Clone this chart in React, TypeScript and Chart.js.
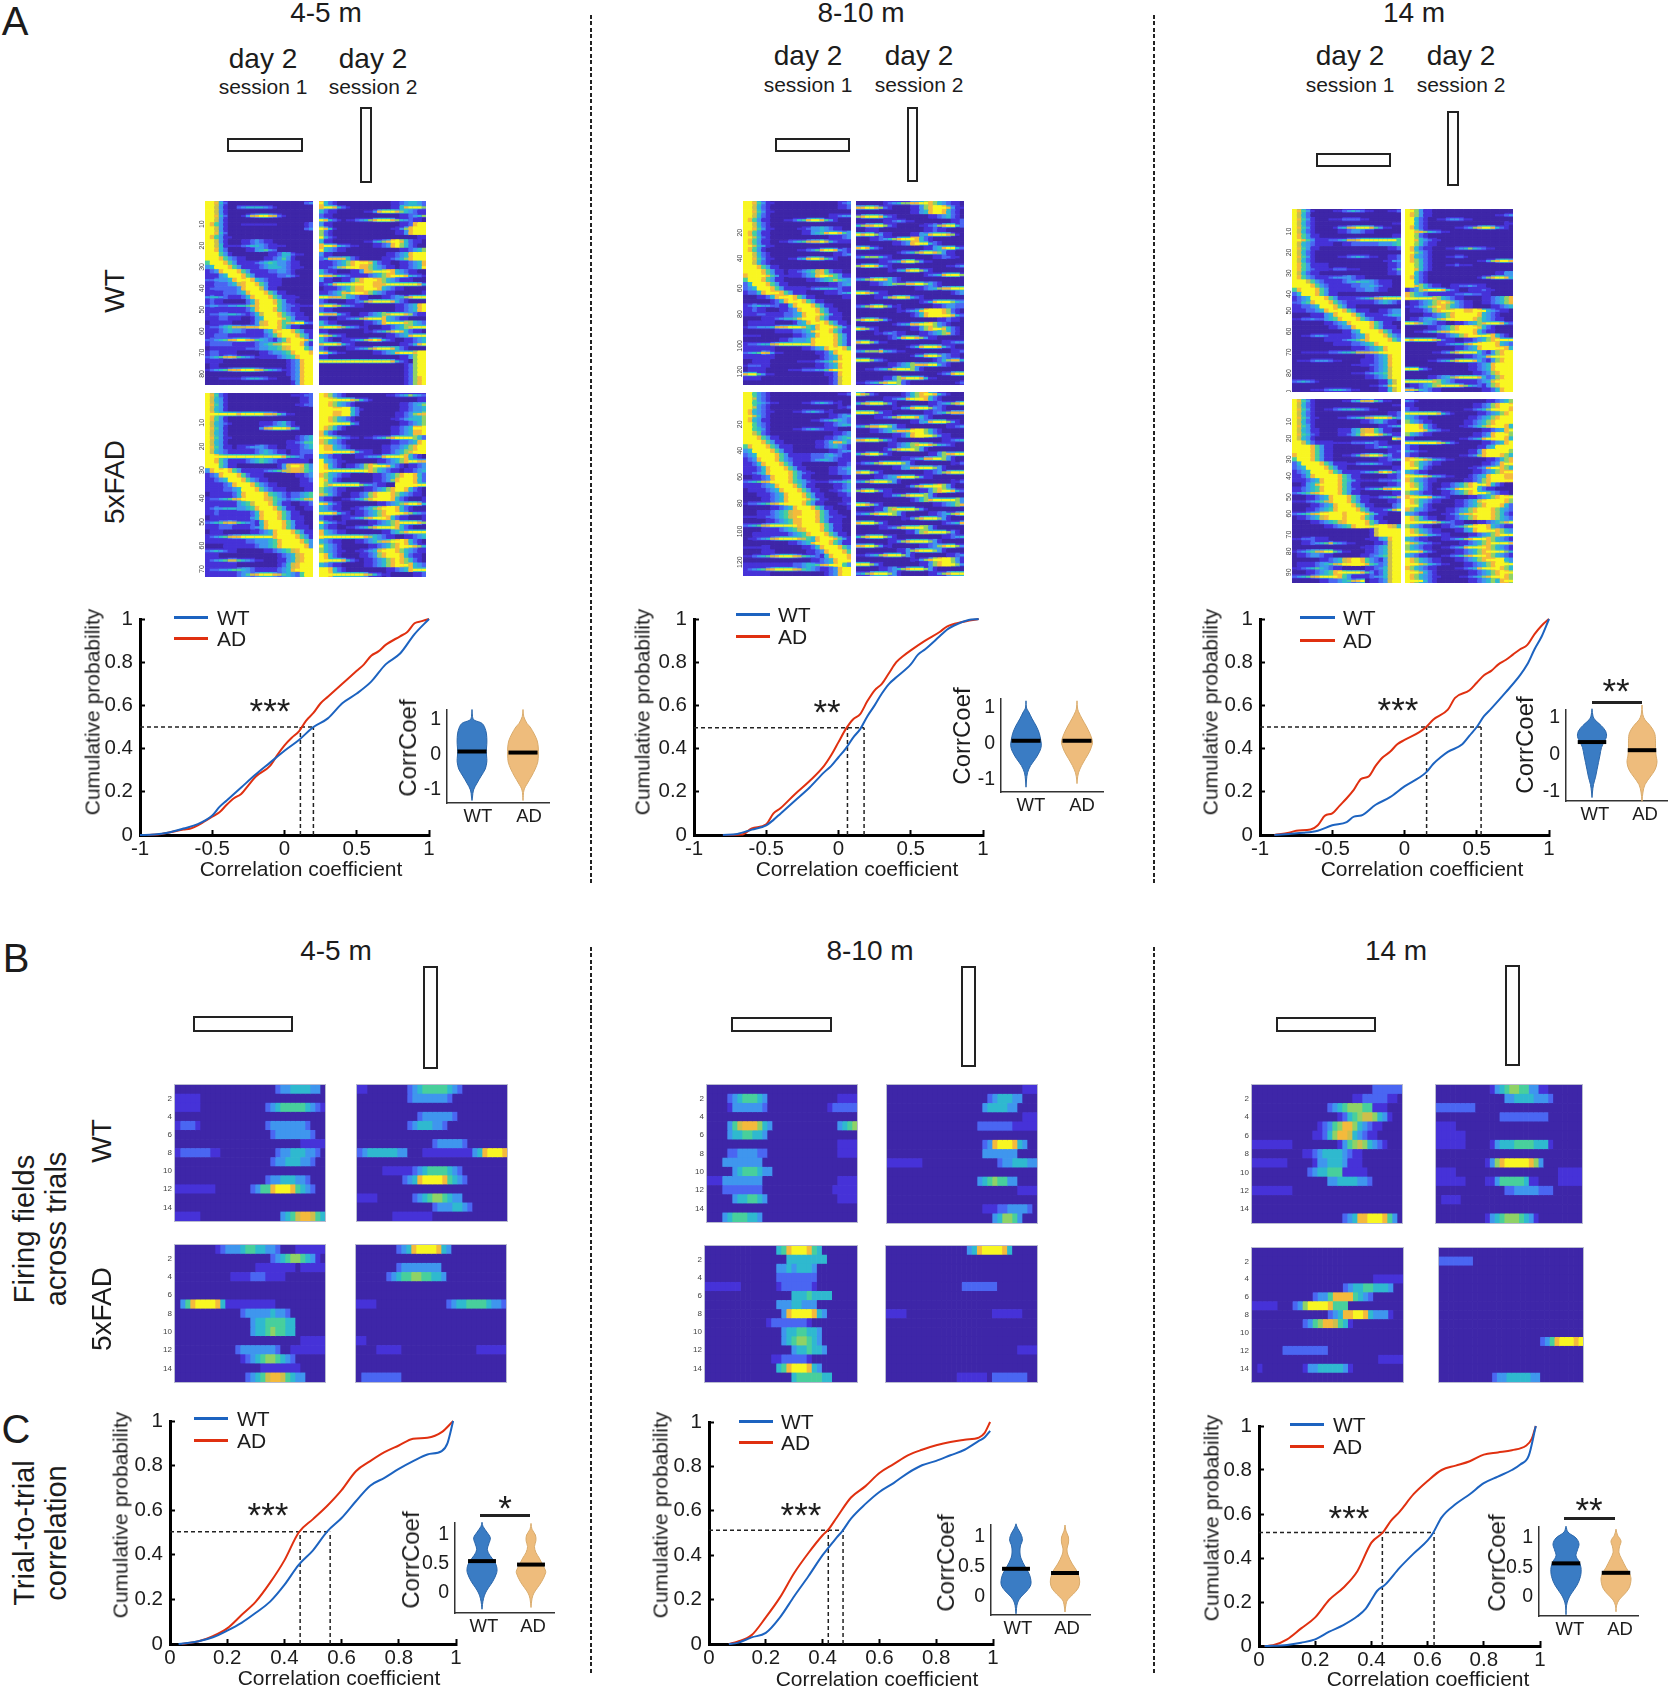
import React, { useEffect, useRef } from "react";
import { Chart, registerables } from "chart.js";
Chart.register(...registerables);
Chart.defaults.font.family = "'Liberation Sans', Arial, sans-serif";
Chart.defaults.color = "#1c1c1c";

/* ---------- cumulative curves [correlation, probability] ---------- */
const a1WT = [[-1,0],[-.9,.002],[-.8,.012],[-.7,.03],[-.6,.05],[-.5,.09],[-.45,.13],[-.4,.16],[-.3,.22],[-.2,.28],[-.1,.335],[0,.39],[.1,.44],[.2,.5],[.3,.54],[.4,.61],[.5,.655],[.6,.71],[.7,.79],[.8,.84],[.9,.93],[1,1]];
const a1AD = [[-.95,0],[-.85,.005],[-.7,.025],[-.65,.03],[-.6,.045],[-.5,.085],[-.45,.105],[-.4,.14],[-.35,.17],[-.3,.19],[-.25,.23],[-.2,.27],[-.1,.32],[-.05,.37],[0,.415],[.05,.45],[.1,.48],[.15,.53],[.2,.565],[.25,.61],[.3,.64],[.4,.7],[.5,.76],[.55,.79],[.6,.83],[.65,.85],[.7,.88],[.8,.92],[.85,.94],[.9,.98],[.95,.99],[1,1]];
const a2WT = [[-.8,0],[-.7,.005],[-.6,.025],[-.5,.045],[-.45,.07],[-.4,.1],[-.3,.16],[-.2,.22],[-.1,.29],[-.05,.32],[0,.36],[.05,.4],[.1,.45],[.15,.49],[.2,.55],[.25,.6],[.3,.655],[.35,.7],[.4,.73],[.5,.79],[.55,.835],[.6,.86],[.7,.92],[.75,.95],[.8,.97],[.9,.995],[.97,1]];
const a2AD = [[-.8,0],[-.67,.002],[-.6,.03],[-.5,.05],[-.45,.1],[-.4,.125],[-.3,.19],[-.2,.25],[-.1,.32],[-.05,.37],[0,.43],[.05,.49],[.1,.535],[.15,.56],[.2,.62],[.25,.67],[.3,.7],[.35,.75],[.4,.8],[.45,.83],[.5,.855],[.6,.9],[.7,.94],[.75,.965],[.85,.985],[.97,1]];
const a3WT = [[-.9,0],[-.8,.005],[-.7,.01],[-.6,.02],[-.5,.045],[-.4,.06],[-.35,.085],[-.3,.09],[-.2,.14],[-.1,.175],[0,.225],[.1,.265],[.15,.29],[.2,.33],[.25,.36],[.3,.385],[.4,.42],[.45,.46],[.5,.5],[.55,.55],[.6,.585],[.7,.66],[.8,.74],[.85,.79],[.9,.86],[.95,.92],[1,1]];
const a3AD = [[-.9,0],[-.8,.01],[-.75,.02],[-.65,.025],[-.6,.045],[-.55,.09],[-.5,.1],[-.45,.135],[-.4,.17],[-.35,.21],[-.3,.26],[-.25,.27],[-.2,.32],[-.15,.36],[-.1,.385],[-.05,.42],[0,.44],[.1,.475],[.15,.5],[.2,.535],[.3,.58],[.35,.635],[.45,.67],[.5,.705],[.55,.74],[.6,.76],[.65,.79],[.7,.81],[.75,.835],[.8,.86],[.85,.88],[.9,.93],[.95,.97],[1,1]];
const c1WT = [[.03,0],[.1,.012],[.15,.03],[.2,.06],[.25,.095],[.3,.14],[.35,.19],[.4,.265],[.45,.355],[.5,.42],[.55,.505],[.6,.565],[.65,.64],[.7,.71],[.75,.745],[.8,.785],[.85,.82],[.9,.85],[.95,.865],[.97,.9],[.99,1]];
const c1AD = [[.04,0],[.1,.012],[.15,.035],[.2,.07],[.25,.13],[.3,.19],[.35,.275],[.4,.375],[.45,.5],[.5,.56],[.55,.62],[.6,.69],[.65,.775],[.7,.82],[.75,.86],[.8,.89],[.85,.92],[.9,.925],[.95,.95],[.99,1]];
const c2WT = [[.07,0],[.1,.005],[.15,.03],[.2,.05],[.25,.12],[.3,.215],[.35,.305],[.4,.4],[.45,.48],[.47,.51],[.5,.565],[.55,.63],[.6,.685],[.65,.725],[.7,.77],[.75,.805],[.8,.825],[.85,.85],[.9,.875],[.95,.915],[.97,.93],[.99,.96]];
const c2AD = [[.07,0],[.1,.01],[.15,.04],[.2,.12],[.25,.21],[.3,.32],[.35,.41],[.4,.49],[.42,.515],[.45,.57],[.5,.66],[.55,.71],[.6,.77],[.65,.81],[.7,.85],[.75,.875],[.8,.895],[.85,.91],[.9,.92],[.95,.93],[.97,.95],[.99,1]];
const c3WT = [[.02,0],[.1,.005],[.15,.015],[.2,.03],[.25,.065],[.3,.095],[.35,.135],[.38,.17],[.4,.21],[.42,.25],[.45,.28],[.5,.355],[.55,.42],[.6,.48],[.62,.515],[.65,.585],[.7,.645],[.75,.69],[.8,.74],[.85,.77],[.9,.8],[.93,.825],[.96,.865],[.985,1]];
const c3AD = [[.02,0],[.05,.003],[.1,.03],[.15,.08],[.2,.13],[.25,.21],[.3,.265],[.35,.34],[.4,.47],[.44,.515],[.47,.57],[.5,.61],[.55,.69],[.6,.75],[.65,.8],[.7,.82],[.75,.84],[.8,.87],[.85,.88],[.9,.89],[.95,.91],[.97,.94],[.985,1]];

/* ---------- median guide values ---------- */
const a1Med = [.5,.11,.2]; const a2Med = [.497,.062,.177]; const a3Med = [.5,.153,.53];
const c1Med = [.503,.455,.56]; const c2Med = [.512,.42,.472]; const c3Med = [.516,.439,.623];

/* ---------- tick labels ---------- */
const xTicksA = [-1,-.5,0,.5,1]; const xTicksC = [0,.2,.4,.6,.8,1]; const yTicksCdf = [0,.2,.4,.6,.8,1];
const vTicksA = [-1,0,1]; const vTicksC = [0,.5,1]; const vNames = ["WT","AD"];

/* ---------- violin profiles [value, half width] ---------- */
const va1WT = [[-1.3,0],[-1.2,.01],[-1,.03],[-.8,.1],[-.6,.18],[-.4,.26],[-.2,.29],[-.1,.29],[.1,.28],[.3,.29],[.5,.29],[.7,.27],[.9,.2],[1,.04],[1.1,.01],[1.3,0]];
const va1AD = [[-1.3,0],[-1,.02],[-.8,.09],[-.6,.17],[-.4,.24],[-.2,.29],[0,.3],[.2,.3],[.4,.28],[.6,.22],[.8,.14],[.9,.08],[1.1,.015],[1.3,0]];
const va2WT = [[-1.2,0],[-1,.01],[-.8,.03],[-.6,.09],[-.4,.19],[-.2,.27],[-.05,.3],[.1,.29],[.3,.26],[.5,.2],[.7,.12],[.9,.05],[1,.01],[1.2,0]];
const va2AD = [[-1.1,0],[-1,.005],[-.8,.03],[-.6,.09],[-.4,.17],[-.2,.25],[0,.3],[.1,.3],[.3,.25],[.5,.18],[.7,.1],[.9,.03],[1,.01],[1.2,0]];
const va3WT = [[-1.15,0],[-1,.01],[-.8,.03],[-.6,.07],[-.4,.1],[-.2,.13],[0,.16],[.2,.19],[.35,.24],[.5,.29],[.65,.27],[.8,.18],[.95,.06],[1.05,.02],[1.25,0]];
const va3AD = [[-1.25,0],[-1,.02],[-.8,.06],[-.6,.16],[-.4,.26],[-.2,.3],[0,.28],[.2,.27],[.4,.27],[.6,.25],[.8,.16],[.95,.06],[1.1,.015],[1.35,0]];
const vc1WT = [[-.28,0],[-.2,.01],[-.1,.03],[0,.07],[.1,.14],[.2,.22],[.35,.3],[.45,.3],[.55,.25],[.65,.16],[.75,.11],[.85,.14],[.95,.17],[1.05,.1],[1.15,.02],[1.22,0]];
const vc1AD = [[-.25,0],[-.1,.02],[0,.06],[.1,.14],[.2,.22],[.35,.3],[.4,.29],[.5,.23],[.6,.17],[.7,.1],[.8,.07],[.9,.1],[1,.09],[1.1,.02],[1.2,0]];
const vc2WT = [[-.28,0],[-.1,.03],[0,.1],[.1,.22],[.2,.3],[.3,.3],[.4,.26],[.5,.19],[.65,.1],[.75,.08],[.85,.09],[.95,.13],[1.05,.1],[1.15,.03],[1.22,0]];
const vc2AD = [[-.25,0],[-.15,.015],[-.05,.05],[.05,.17],[.15,.27],[.25,.3],[.35,.28],[.45,.23],[.55,.15],[.7,.06],[.8,.04],[.9,.07],[1,.07],[1.1,.02],[1.2,0]];
const vc3WT = [[-.3,0],[-.15,.01],[-.05,.04],[.05,.1],[.2,.22],[.35,.29],[.5,.3],[.6,.26],[.7,.2],[.8,.23],[.9,.26],[1,.2],[1.1,.04],[1.2,0]];
const vc3AD = [[-.25,0],[-.15,.01],[-.05,.06],[.05,.17],[.15,.26],[.3,.3],[.4,.27],[.5,.2],[.65,.11],[.75,.06],[.85,.07],[.95,.1],[1.05,.03],[1.15,0]];
const vMedA1 = [.1,.07]; const vMedA2 = [.09,.09]; const vMedA3 = [.35,.13];
const vMedC1 = [.55,.49]; const vMedC2 = [.47,.4]; const vMedC3 = [.57,.41];

/* ---------- panel A heat rows (levels 0-9 of the colour scale) ---------- */
const hA1WtS1 = ["998530000000000000000034","997420034555543200000000","997420000000000000000000","998530002478998731000000","997420000000000000000000","986420001222222100000023","997420000000000000000034","998530000000000000000000","986421000000000000000000","997420001234321000000000","997521123455432221000000","998530000124564300000000","999642000000001235532100","999864321000012346420000","699986421123456544321000","459998642112345554322100","234899986421123344320000","122459998642211233431000","334445899985432110000000","123334578998642210000000","233333348999742100000000","122233345899986421000000","455432223589998642111000","232100000358999864210000","344334455678999964332111","122222111358999864321000","233445543235799986432100","122332110024599998642110","011221000024789986789943","233456777888999986421000","122345443211245899986421","123332221111234689998642","334567899876543246899986","233333211123456779999842","011111222333445567899964","233221100000123445689998","345678765432111234568999","122100000000000000234899","011000000000000000234899","234567889998765432234899","000000000000000000134899","000111123455432100034899","000000000000000000024899"];
const hA1WtS2 = ["964300000000000123456654","899864200000000023689997","643210000023589998765432","432100000000000001234567","986421234567899987654321","532100000000000000234899","986300000000000123578999","742100000000000002358999","964200000000000000000123","632100000123567899864321","899865432101234589764210","965432100000000011234567","532110000000001234568999","468888642111112345678999","223456789998642211234568","234578999887654321234569","643210023588999986543210","988765432234567899986543","532102357899987654322100","346899999999888999999986","122345678899986543210011","234568899987654321000002","998887654321112345678999","421001234578999986421000","899876543210000012345689","432100000000000002345689","988864211234567899987432","321123456789998654321000","643210000023458999987654","899987654321012345678999","321000000123456789864321","987642100000001234568999","642112345678986421123456","899986421000000001234689","421001234567899986421000","986432111111234568999899","321000000000000001235799","999999999999999986431799","000000000000000000134799","000000000000000000134799","000000000000000000134799","000000000000000000134789","000000000000000000134789"];
const hA15S1 = ["986320000000000000012233","975420000000000000000123","986420000000000000002233","975420000000000000000000","999999989999988764210000","986420000000000000000000","975431000000112345320000","986420000000478999864000","975410000000000000000000","986421000000000000002345","975420000000000000123466","986421012344432100122345","975432111123454321012333","999999999999999998654321","998642112345654322221110","999642100000000024799864","489998642111234567788765","234899986321100000001234","123459998643210000000123","112234899986432100000122","122233459998643211000011","011122358999986543233456","233456789999987654345678","111122245679998642100123","234455544568999864210011","123222211235899986421000","011111222245899986421100","345678765432589998642100","122333211134589998642110","011100000012345899986421","234567889999999899998642","122222222334445689999864","000011122223445689999984","345432100000012345678999","111000000000000023457899","234567765432100012457899","111111100000000023578999","233445665432111234589999","111112234678999876543699"];
const hA15S2 = ["987542100000000234567654","999999987642000000000123","998765420000000011234567","999999964200000011234556","999889964000000012345788","998765420000000123456667","999999964000000001234567","987642100000000023456999","864210000000000123456889","999765432123456789999764","876542110000000123445689","988654210000012344567899","999999986432112345678999","654321012345568999986421","965432100000123456789988","986421234578999864212345","999999999998765432123456","876543210011234567899864","986421000001234578999864","978999999765432109999999","765432110123456789986421","876421123457899987654321","432112345678999986421012","986421000000123456789986","654321123456789998642100","999864212345678999987654","432112345678999864321012","965432100012345678999987","643211234567899998642100","865432100000012356789999","999999999987654321123456","654321012345678899986421","965421000012345678999876","765432112345689998765432","986421001234578999864321","999998642123456789876421","654321000123456789998654","998642100000000234568999","999999999987643211111234"];

const hA2WtS1 = ["998642100000000000000234","997531000000000000000123","998642100000000000000000","997531000000000000012344","986421000123568998641000","997531000000000000000000","998642100000123445432100","986421000000012456899864","997531000000000000012234","986421001234567889753211","997542100000000000000000","986420000000123468998431","997531000000000000001234","998642100012458998641000","997531000000000000000000","999864210000000000000000","999986421012345678632100","899998642111234589986421","699986421000001234567654","359998642100000000012345","345999864211122345554321","233589998642110000122345","000123589998642100000012","000000135899986421000000","234544332158999864210000","123210001234899986421000","122332212334589998642100","000012234556899986421100","011122100002458999864210","233444578899986589998642","000000011123345899986421","122100000001234589998642","000000001234445899998642","233455789999999899998642","112211100000012345899986","345687421000000012358999","222211100000000001345899","001111000000112234568999","233321000000000012345899","012210000011233344689999","899642100000000000123899","122100000000000000013799","000000000000000000013799"];
const hA2WtS2 = ["000000345677889987654321","889987421000235789998532","000000000001235689986421","789998642100000023456421","000001234543210000001234","678899742100012345789964","012321000000000234321000","989975321001235689998731","001234567899986421000011","000000012345899964210000","898642100000001235689964","000000001245678998753210","467776421000000012344321","000012345689975321000000","789986421000000000012345","000000123568997521000000","000000000000001245689997","567899864210000000000000","001234567778899764210000","000000000000123456788999","998753210000000000001345","000123578998642100000000","000000000000002468999765","467899753210000012345544","000000001234568999987420","000000000001246899999864","789987531000000001234321","000000012456889997542100","987421000001235789986421","000123454321012345678421","000000124689987532100000","899753210000000000123455","000000000012468999864210","567778654321000000001234","000000000001356899754321","999754210000000012467886","000000123456788899642100","012345678999753100000000","000000000000000001245899","000001235789998632100000","234567899742100000000134"];
const hA25S1 = ["996431000000000000000123","997432000000000000000000","996543210000012345432100","997431000000000000000123","985432100001234543210000","997531000000000000012345","985421000000000123456543","996431000000000000123455","996542000001234543211000","997631000000000000001234","999864210000000000123456","999986421000000012358864","689998642110000012345432","459999864210000000012344","345999986421112333454322","234899986432112345543211","123589998642100000000123","112358999864210000012345","123458999986432100012334","001234899986421000000012","345678999986543211234456","122234589998642100001234","011123458999864210012345","000112345899986421000123","000012345899998642100012","233456789999986421000123","000000123458999864210001","000112345678899986421000","111223345678999986432110","000001234568899986421100","345678999999899998642100","000011123456789998642100","001122211234568999864210","012345789999876589998642","000000000012345899986421","111111000000012358999864","000011100000001234899986","123456789998765432589998","000000000000000123458999","122221111123345567899964","234567899998765432134899","112211000000000000234899"];
const hA25S2 = ["987421000124678998642110","000000234568999864210000","678999753100000123456789","000000012356899975421000","999975321000001234567888","000123457899986421000000","000000000000235689997531","567889975321000000012345","001234567888999764210000","000000012346899997532100","889997642100000000123456","000000123456789987654210","000001357899975310000000","678997531000000123578899","000000000123456889975310","345678999975310000001234","000000012356889997531000","899753100000001234578999","000123456899975321000011","567899975310000000001234","000000000013578999975310","789975321000012357899864","000001235678999753100000","000000000001346789999975","998753100000000012345678","000123578999975310000000","456789997531000123456789","000000000123578999753100","899975310000000000134568","000012345789999753100000","000000000012357899997531","678999753100000000123456","000000123578999975310000","889975321000012345789975","000000001235789997531000","234567899975310000012345","000000000001235789999753","999753100000012357899975","000012345678999753100000","567899975310000123578999"];

const hA3WtS1 = ["986420000123454321000123","975300000000000000000000","986420001223333210000000","975310000000000000000012","986420000245789998642100","975310000012344321000000","986421000000000000000011","998642123345778999999996","975432211001233333344456","986421000000000000000123","975310000000000000000000","986420000012345432100123","975310000000000000001244","986421110000000000000123","986432112333211000000236","975321000000000000000123","986432123444432100000000","999764321123456554322100","999986432112233445432100","689998642211123344321000","359998642100000000000000","234599986421123456789999","335689998643211112345432","223345999864210000000000","122334589998642110012344","000011245899986421123455","123343345689998643211123","000000012345899998642100","000000001234489998642210","000000000001245999986421","001234432111234589998643","000000012223456789999864","000000000112233456899999","000000000000011234568999","001111123345567778899999","000000000000000012345899","012234443210000112345899","000000000000012223345899","000000000000000002345799","000000000000012234556799","000000000000000012345799","345431000000000000012579","000000000000000001234799","000011234554321000012579"];
const hA3WtS2 = ["997532100000000000000000","987532100000000000012345","996421023455432100000000","996431000000000000000123","986431000012345789986421","998876543210000000000000","997421000000000000000000","998654321000000000000000","997643211000000000000000","986432111234567654321000","997642100000000000000000","986542111234431000000000","987642100000000123578998","997642111234332100000000","998642000000000000000000","996421000000000000012355","986431000000000125789986","996431000000000000000000","998764321123445432100000","345789998642112334321000","876543322234455443210000","999999876543210012345678","123456789875432112345678","234567898765432100123456","122345789999988999654321","000123456789999986542100","123456678999999876543210","998765432112345678999864","000012345678999986421000","012345678899999864321100","000000123456789999986421","989999874321123456789999","000000123456678999998654","000000000012345689999986","000001234578999964357899","000000000000123456899999","000012345678999864357899","000000000000012345689999","999642100000112345689999","000000000000001234578999","000012345678999986457899","999999876543223345689999","123456789999876543578999","887654321000000012346899"];
const hA35S1 = ["986420000001245778642100","975310000000000000000012","986420012345565432100000","975310000000000000000123","986421000012345678999864","975310000000000123453210","986420000000000000012345","975421000011245788642100","986531000012346899986421","975420000000000000000098","997531111222233344321000","999986421000000012345321","999986421000000000000123","899986421001235789986421","699986421000000000012345","359999864211123445432100","345999986421000000000012","234599998642112345689864","123589999986421000000123","112345899986542111233345","002458999986421000000123","123456899986432234568899","345678999986421000000012","000123458999864211234567","122345678999864210000123","000012345899986421000034","000123456899998642113579","345678999998999986421000","012345789998999864210000","000012345678999986421000","000000012345689999999875","000000000000000001799999","000000000000000001799999","123332210000000011245899","001234567543210000123799","000000000000000122345799","234567899642100012345799","012344321000000123456799","000000123457899864324799","011223456789999986534799","123456543210000012345799","000123456899999864235799","345678999986421123445799","000000123345678901234799"];
const hA35S2 = ["542100000000000000234567","321000000000001234578999","432100000000123456799998","999999986421000123456789","654321000000012345678999","765432110000123456789999","999864210001234567899986","999986543210000012345689","765432100000000234589997","321000000001234568999986","999999987642100012345689","432100000000000123569999","654321000000012358999997","432110000001234578999876","899987654321000001234678","987654321000000012345899","999642100000012345899876","654321000000001234567899","999987654321012456899988","876543210000123457899999","987642112345678999864210","999642134568999964321000","765432112345678999754321","899998654210012345678999","987654321012345689999987","999642100012345678999864","876543211234567899987654","654321012345788999987642","987643211234567899987654","999999876543210123456789","765432112345679999865432","987654321012356899998765","999876543210012345678999","654321012345678999876543","987654321001234567899998","765432112345689999876542","999864210012345678999976","654321012345678999876543","987654321012345678999965","999876543210123456789999","876543210012345689999876","999864210000012345678999","987654321001234567899987","999964210000012345676899"];

/* ---------- panel B heat rows ---------- */
const hB1WtS1 = ["000000000000000000002334444330","111110000000000000000000000000","111110000000000000234555554321","000000000000000000000000000000","122210000000000000233333332000","000000000000000000023333333200","000000000000000000000000011111","122222211000000000002334443320","000000000000000000023344433200","000000000000000000000000000000","000000000000000000233444332000","111111110000000235589998543200","000000000000000000000000000000","000000000000000000000000000000","111110000000000000000345788754"];
const hB1WtS2 = ["110000000023455555432000000000","000000000023333333200000000000","000000000000000000000000000000","000000000000233333320000000000","000000000023444332000000000000","000000000000000000000000000000","000000000000000233333200000000","234444443300011111111113489998","000000000000000000000000000000","000001111112345555432000000000","000000000234899998543200000000","000000000000000000000000000000","111100000002345665433000000000","000000000000000233344320000000","000000011111111000000000000000"];
const hB15S1 = ["000000001233345544332000111111","000000000000000000023456654310","000000000000000011111111011111","000000000001111222111100000000","000000000000000000000000000000","000000000000000000000000000000","035899998411111111110000000000","000000000000023333343320000000","000000000000000344555544000000","000000000000000344565544000000","000000000000000000000000011111","000000000000233333332001111111","000000000000012345665432000000","000000000000000001111111100000","000000000000002345788754330000"];
const hB15S2 = ["000000002348999984300000000000","000000000000000000000000000000","000000002333333330000000000000","000000234556655443000000000000","000000000000000000000000000000","000000000000000000000000000000","111100000000000000234455554332","000000000000000000000000000000","000000000000000000000000000000","000000000000000000000000000000","110000000000000000000000000000","000011111000000000000000111111","000000000000000000000000000000","000000000000000000000000000000","022222222000000000000000000000"];
const hB2WtS1 = ["000000000000000000000000000000","000023455543000000000000001111","000013333332000000000000122222","000000000000000000000000000000","000035788864300000000000003456","000034455443000000000000000000","000000000000000000000000001111","000022333322000000000000001111","000333333330000000000000000000","000003455543300000000000000000","111333333330000000000000001111","000222222220000000000000011111","000003445543000000000000001111","000000000000000000000000000000","000345554430000000000000000000"];
const hB2WtS2 = ["000000000000000000000000000111","000000000000000000002344433000","000000000000000000034444330000","000000000000000000000000000111","000000000000000000222222211111","000000000000000000000000000000","000000000000000000023899984300","000000000000000000033333330000","111111100000000000000023344433","000000000000000000000000000000","000000000000000000345655330000","000000000000000000000000001111","000000000000000000000000000000","000000000000000000011122333320","000000000000000000000346653000"];
const hB25S1 = ["000000000000004589998540000000","000000000000000044444444000000","000000000000003343444300000000","000000000000002222222200000000","111111100000001222222100000000","000000000000000004445444400000","000000000000003334433300000000","000000000000000389999843000000","000000000000122222221000000000","000000000000000344554430000000","000000000000000345665430000000","000000000000000003445443000000","000000000000011222221000000000","000000000000004589998430000000","000000000000000004555554400000"];
const hB25S2 = ["000000000000000034899998400000","000000000000000000000000000000","000000000000000000000000000000","000000000000000000000000000000","000000000000000222222200000000","000000000000000000000000000000","000000000000000000000000000000","111100000000000000000111111000","000000000000000000000000000000","000000000000000000000000000000","000000000000000000000000000000","000000000000000000000000001111","000000000000000000000000000000","000000000000000000000000000000","000000000000001111110222222200"];
const hB3WtS1 = ["000000000000000000000000222222","000000000000000000001122222110","000000000000000234566655111000","000000000000000001245677643100","000000000000012356886432110000","000000000000112468874321100000","111111110000000001356764321000","000000000011234444321100000000","111111100000133444311100000000","000000000002344555111110000000","000000000000000334444332000000","111111110000000000000000000000","000000000000000000000000000000","000000000000000000000000000000","000000000000000000234889998530"];
const hB3WtS2 = ["000000000001345665533110000000","000000000000003344443332000000","222222220000000000000000000000","000000000000022222222220000000","111100000000000000000000000000","111111000000000000000000000000","111111000001344455554441000000","000000000000000000000000000000","000000000013689999986300000000","111100000000000000000000011111","111111000011355555411000011111","000000000000002233333222000000","011110000000000000000000000000","000000000000000000000000000000","000000000013456665431000000000"];
const hB35S1 = ["000000000000000000000000000000","000000000000000000000000000000","000000000000000000000000000000","000000000000000000000000111111","000000000000000000234455444300","000000000000233588885432000000","111110002369999855500000000000","000000000000000234889984333100","000000000023568875410000000000","000000000000000000000000000000","000000000000000000000000000000","000000222222222000000000000000","000000000000000000000000011111","010000000013344444310000000000","000000000000000000000000000000"];
const hB35S2 = ["000000000000000000000000000000","222222200000000000000000000000","000000000000000000000000000000","000000000000000000000000000000","000000000000000000000000000000","000000000000000000000000000000","000000000000000000000000000000","000000000000000000000000000000","000000000000000000000000000000","000000000000000000000000000000","000000000000000000000235899989","000000000000000000000000000000","000000000000000000000000000000","000000000000000000000000000000","000000000002334444433000000000"];

const levelColors = ["#3e26a8","#4632d8","#4a66f2","#3f96ee","#2fb9cf","#48cf9c","#8fd266","#cdbf4c","#f4ba3c","#f8f622"];
/* colour limits: how written levels land on the colour scale */
const climS1 = [0,1,1,2,3,4,5,7,8,9];
const climS2 = [0,0,1,1,2,3,4,6,8,9];
const climB = [0,1,2,3,4,5,6,7,8,9];
const INK = "#1c1c1c";

const noPad = (s: any) => { s.paddingTop = s.paddingBottom = s.paddingLeft = s.paddingRight = 0; };

/* ---------- chart builders ---------- */
function heat(rows: string[], total: number, step: number, left: number, top: number, w: number, h: number, frame = false, clim = climB) {
  const G = 14;
  const cols = Math.max(...rows.map((r) => r.length));
  const labels = rows.map((_, i) => String(i + 1));
  const lv = (r: number, c: number) => clim[+((rows[r] || "")[c] || 0)];
  const cell = (c: number, color: string[], pct: number) => ({
    data: rows.map(() => [c, c + 1]),
    backgroundColor: color,
    borderWidth: 0,
    barPercentage: pct,
    categoryPercentage: 1,
    grouped: false,
  });
  const datasets: any[] = [];
  for (let c = 0; c < cols; c++) {
    datasets.push(cell(c, rows.map((_, r) => levelColors[lv(r, c)]), frame ? 1 : 0.52));
  }
  if (!frame) {
    /* isolated streaks: bright core over a dim halo; vertically joined cells stay solid */
    for (let c = 0; c < cols; c++) {
      datasets.push(cell(c, rows.map((_, r) => {
        const L = lv(r, c);
        const near = Math.max(lv(r - 1, c), lv(r + 1, c));
        return levelColors[Math.min(L, Math.max(L > 1 ? Math.max(L - 5, 1) : 0, near))];
      }), 1));
    }
  }
  const n = rows.length;
  const config = {
    type: "bar",
    data: { labels, datasets },
    options: {
      indexAxis: "y",
      responsive: false,
      animation: false,
      events: [],
      devicePixelRatio: 1,
      layout: { padding: 0 },
      plugins: { legend: { display: false }, tooltip: { enabled: false } },
      scales: {
        x: { type: "linear", min: 0, max: cols, display: false },
        y: {
          type: "category",
          grid: { display: false, drawTicks: false },
          border: { display: false },
          afterFit: (s: any) => { s.width = G; noPad(s); },
          ticks: {
            autoSkip: false,
            padding: 3,
            font: { size: total > 20 ? 7 : 8 },
            color: "#444",
            minRotation: total > 20 ? 90 : 0,
            maxRotation: total > 20 ? 90 : 0,
            callback: (_: any, i: number) => {
              const r0 = (i * total) / n, r1 = ((i + 1) * total) / n;
              const m = Math.ceil((r0 + 1e-6) / step) * step;
              return m <= r1 && m < total ? String(m) : "";
            },
          },
        },
      },
    },
  };
  return { key: `h${left}-${top}`, left: left - G, top, width: w + G, height: h, config, blur: 0.7, frame: frame ? { left, top, w, h } : null };
}

function cdf(wt: number[][], ad: number[][], med: number[], xTicks: number[], x0: number, x1: number, y0: number, y1: number) {
  const L = 50, B = 30, T = 10, R = 14;
  const line = (d: number[][], c: string) => ({ data: d.map(([x, y]) => ({ x, y })), borderColor: c, borderWidth: 2, pointRadius: 0, showLine: true, cubicInterpolationMode: "monotone", clip: false, fill: false });
  const xMin = xTicks[0];
  const guide = (d: number[][]) => ({ data: d.map(([x, y]) => ({ x, y })), borderColor: "#222", borderWidth: 1.5, borderDash: [4, 3], pointRadius: 0, showLine: true });
  const [half, m1, m2] = med;
  const axis = (ticks: number[], fitKey: string, fitVal: number, pad: number) => ({
    type: "linear",
    min: ticks[0],
    max: ticks[ticks.length - 1],
    border: { display: true, color: "#000", width: 3 },
    grid: { drawOnChartArea: false, drawTicks: true, tickLength: -5, tickWidth: 2, tickColor: "#000" },
    afterBuildTicks: (s: any) => { s.ticks = ticks.map((value) => ({ value })); },
    afterFit: (s: any) => { s[fitKey] = fitVal; noPad(s); },
    ticks: { font: { size: 20.5 }, color: INK, padding: pad, autoSkip: false, maxRotation: 0, callback: (v: number) => String(v) },
  });
  const config = {
    type: "scatter",
    data: {
      datasets: [
        line(wt, "#1c63c0"),
        line(ad, "#e03010"),
        guide([[xMin, half], [m2, half]]),
        guide([[m1, 0], [m1, half]]),
        guide([[m2, 0], [m2, half]]),
      ],
    },
    options: {
      responsive: false,
      animation: false,
      events: [],
      devicePixelRatio: 1,
      layout: { padding: { top: T, right: R } },
      plugins: { legend: { display: false }, tooltip: { enabled: false } },
      scales: { x: axis(xTicks, "height", B, 7), y: axis(yTicksCdf, "width", L, 12) },
    },
  };
  return { key: `c${x0}-${y0}`, left: x0 - L, top: y1 - T, width: L + x1 - x0 + R, height: T + y0 - y1 + B, config };
}

function violin(wt: number[][], ad: number[][], med: number[], ticks: number[], left: number, right: number, top: number, bottom: number, cx1: number, cx2: number, y1px: number, y0px: number, labelShift: number) {
  const L = 40, B = 26, T = 6, R = 4;
  const unitX = cx2 - cx1;
  const unitY = y0px - y1px;
  const edge = (prof: number[][], c: number, sign: number, col: string, fillCol: string | null) => ({
    data: prof.map(([y, w]) => ({ x: c + sign * w, y })),
    borderColor: col,
    borderWidth: 1,
    pointRadius: 0,
    tension: 0.35,
    clip: false,
    fill: fillCol ? { target: "-1", above: fillCol, below: fillCol } : false,
  });
  const bar = (c: number, m: number) => ({ data: [{ x: c - 0.285, y: m }, { x: c + 0.285, y: m }], borderColor: "#000", borderWidth: 4, pointRadius: 0, clip: false, fill: false });
  const config = {
    type: "line",
    data: {
      datasets: [
        bar(1, med[0]),
        bar(2, med[1]),
        edge(wt, 1, -1, "#2a66aa", null),
        edge(wt, 1, 1, "#2a66aa", "#3a7cc4"),
        edge(ad, 2, -1, "#d9ab6c", null),
        edge(ad, 2, 1, "#d9ab6c", "#eebc7c"),
      ],
    },
    options: {
      indexAxis: "y",
      responsive: false,
      animation: false,
      events: [],
      devicePixelRatio: 1,
      layout: { padding: { top: T, right: R } },
      plugins: { legend: { display: false }, tooltip: { enabled: false } },
      scales: {
        x: {
          type: "linear",
          min: 1 - (cx1 - left) / unitX,
          max: 2 + (right - cx2) / unitX,
          border: { display: true, color: "#333", width: 1.5 },
          grid: { display: false, drawTicks: false },
          afterBuildTicks: (s: any) => { s.ticks = [{ value: 1 }, { value: 2 }]; },
          afterFit: (s: any) => { s.height = B; noPad(s); },
          ticks: { font: { size: 18.5 }, color: INK, padding: 3, labelOffset: labelShift, autoSkip: false, maxRotation: 0, callback: (v: number) => vNames[v - 1] },
        },
        y: {
          type: "linear",
          min: (y0px - bottom) / unitY,
          max: (y0px - top) / unitY,
          border: { display: true, color: "#333", width: 1.5 },
          grid: { display: false, drawTicks: false },
          afterBuildTicks: (s: any) => { s.ticks = ticks.map((value) => ({ value })); },
          afterFit: (s: any) => { s.width = L; noPad(s); },
          ticks: { font: { size: 19.5 }, color: INK, padding: 6, autoSkip: false, callback: (v: number) => String(v) },
        },
      },
    },
  };
  return { key: `v${left}-${top}`, left: left - L, top: top - T, width: L + right - left + R, height: T + bottom - top + B, config };
}

const charts = [
  heat(hA1WtS1, 88, 10, 205, 201, 108, 184, false, climS1), heat(hA1WtS2, 88, 1000, 319, 201, 107, 184, false, climS2),
  heat(hA15S1, 74, 10, 205, 393, 108, 184, false, climS1), heat(hA15S2, 74, 1000, 319, 393, 107, 184, false, climS2),
  heat(hA2WtS1, 133, 20, 743, 201, 108, 184, false, climS1), heat(hA2WtS2, 133, 1000, 856, 201, 108, 184, false, climS2),
  heat(hA25S1, 136, 20, 743, 392, 108, 184, false, climS1), heat(hA25S2, 136, 1000, 856, 392, 108, 184, false, climS2),
  heat(hA3WtS1, 92, 10, 1292, 209, 109, 183, false, climS1), heat(hA3WtS2, 92, 1000, 1405, 209, 108, 183, false, climS2),
  heat(hA35S1, 98, 10, 1292, 399, 109, 184, false, climS1), heat(hA35S2, 98, 1000, 1405, 399, 108, 184, false, climS2),

  heat(hB1WtS1, 15, 2, 175, 1085, 150, 136, true), heat(hB1WtS2, 15, 1000, 357, 1085, 150, 136, true),
  heat(hB15S1, 15, 2, 175, 1245, 150, 137, true), heat(hB15S2, 15, 1000, 356, 1245, 150, 137, true),
  heat(hB2WtS1, 15, 2, 707, 1085, 150, 137, true), heat(hB2WtS2, 15, 1000, 887, 1085, 150, 138, true),
  heat(hB25S1, 15, 2, 705, 1246, 152, 136, true), heat(hB25S2, 15, 1000, 886, 1246, 151, 136, true),
  heat(hB3WtS1, 15, 2, 1252, 1085, 150, 138, true), heat(hB3WtS2, 15, 1000, 1436, 1085, 146, 138, true),
  heat(hB35S1, 15, 2, 1252, 1248, 151, 134, true), heat(hB35S2, 15, 1000, 1439, 1248, 144, 134, true),

  cdf(a1WT, a1AD, a1Med, xTicksA, 140, 429, 835, 619),
  cdf(a2WT, a2AD, a2Med, xTicksA, 694, 983, 835, 619),
  cdf(a3WT, a3AD, a3Med, xTicksA, 1260, 1549, 835, 619),
  cdf(c1WT, c1AD, c1Med, xTicksC, 170, 456, 1644, 1421),
  cdf(c2WT, c2AD, c2Med, xTicksC, 709, 993, 1644, 1422),
  cdf(c3WT, c3AD, c3Med, xTicksC, 1259, 1540, 1646, 1426),

  violin(va1WT, va1AD, vMedA1, vTicksA, 447, 549, 710, 803, 472, 523, 720, 755, 6),
  violin(va2WT, va2AD, vMedA2, vTicksA, 1001, 1103, 699, 792, 1026, 1077, 708, 744, 5),
  violin(va3WT, va3AD, vMedA3, vTicksA, 1566, 1667, 710, 801, 1592, 1642, 718, 755, 3),
  violin(vc1WT, vc1AD, vMedC1, vTicksC, 455, 554, 1523, 1613, 482, 531, 1535, 1593, 2),
  violin(vc2WT, vc2AD, vMedC2, vTicksC, 991, 1090, 1525, 1615, 1016, 1065, 1537, 1597, 2),
  violin(vc3WT, vc3AD, vMedC3, vTicksC, 1539, 1638, 1527, 1616, 1566, 1616, 1538, 1597, 4),
];

/* ---------- free text and furniture ---------- */
const texts: [string, number, number, number, boolean?][] = [
  ["A", 15, 21, 40], ["B", 16, 958, 40], ["C", 16, 1429, 40],
  ["4-5 m", 326, 13, 28], ["8-10 m", 861, 13, 28], ["14 m", 1414, 13, 28],
  ["day 2", 263, 59, 28], ["day 2", 373, 59, 28], ["session 1", 263, 86, 21], ["session 2", 373, 86, 21],
  ["day 2", 808, 56, 28], ["day 2", 919, 56, 28], ["session 1", 808, 84, 21], ["session 2", 919, 84, 21],
  ["day 2", 1350, 56, 28], ["day 2", 1461, 56, 28], ["session 1", 1350, 84, 21], ["session 2", 1461, 84, 21],
  ["WT", 115, 291, 28, true], ["5xFAD", 115, 482, 28, true],
  ["4-5 m", 336, 951, 28], ["8-10 m", 870, 951, 28], ["14 m", 1396, 951, 28],
  ["WT", 102, 1141, 28, true], ["5xFAD", 102, 1309, 28, true],
  ["Firing fields", 24, 1229, 29, true], ["across trials", 56, 1229, 29, true],
  ["Trial-to-trial", 24, 1533, 29, true], ["correlation", 56, 1533, 29, true],
  ["Cumulative probability", 92, 712, 21, true], ["Correlation coefficient", 301, 868, 21],
  ["Cumulative probability", 642, 712, 21, true], ["Correlation coefficient", 857, 868, 21],
  ["Cumulative probability", 1210, 712, 21, true], ["Correlation coefficient", 1422, 868, 21],
  ["Cumulative probability", 120, 1515, 21, true], ["Correlation coefficient", 339, 1677, 21],
  ["Cumulative probability", 660, 1515, 21, true], ["Correlation coefficient", 877, 1678, 21],
  ["Cumulative probability", 1211, 1518, 21, true], ["Correlation coefficient", 1428, 1678, 21],
  ["CorrCoef", 408, 748, 24, true], ["CorrCoef", 962, 736, 24, true], ["CorrCoef", 1525, 745, 24, true],
  ["CorrCoef", 411, 1560, 24, true], ["CorrCoef", 946, 1563, 24, true], ["CorrCoef", 1497, 1563, 24, true],
  ["***", 270, 710, 35], ["**", 827, 711, 35], ["***", 1398, 709, 35], ["**", 1616, 690, 35],
  ["***", 268, 1514, 35], ["*", 505, 1507, 35], ["***", 801, 1514, 35], ["***", 1349, 1517, 35], ["**", 1589, 1509, 35],
];
/* legend: line start, line end, text x, y of WT, y of AD */
const legends = [
  [174, 208, 217, 617, 638], [736, 770, 778, 614, 636], [1300, 1335, 1343, 617, 640],
  [194, 228, 237, 1418, 1440], [739, 773, 781, 1421, 1442], [1290, 1324, 1333, 1424, 1446],
];
/* outlined boxes: left, top, width, height */
const boxes = [
  [227, 138, 76, 14], [360, 107, 12, 76], [775, 138, 75, 14], [907, 107, 11, 75], [1316, 153, 75, 14], [1447, 111, 12, 75],
  [193, 1016, 100, 16], [423, 966, 15, 103], [731, 1017, 101, 15], [961, 966, 15, 101], [1276, 1017, 100, 15], [1505, 965, 15, 101],
];
const sigBars = [[1592, 1642, 702], [480, 530, 1515], [1564, 1615, 1518]];
const dashed = [[590, 15, 885], [1153, 15, 885], [590, 947, 1675], [1153, 947, 1675]];

function ChartCanvas({ spec }: { spec: any }) {
  const ref = useRef<HTMLCanvasElement>(null);
  useEffect(() => {
    const c = new Chart(ref.current as any, spec.config);
    return () => c.destroy();
  }, []);
  return (
    <canvas
      ref={ref}
      width={spec.width}
      height={spec.height}
      style={{ position: "absolute", left: spec.left, top: spec.top, width: spec.width, height: spec.height, filter: spec.blur ? `blur(${spec.blur}px)` : undefined }}
    />
  );
}

const abs = (o: any) => ({ position: "absolute", ...o });

export default function App() {
  return (
    <div style={abs({ left: 0, top: 0, width: 1669, height: 1687, overflow: "hidden", background: "#fff", fontFamily: "'Liberation Sans', Arial, sans-serif", color: INK, filter: "blur(0.35px)" })}>
      {charts.map((s) => <ChartCanvas key={s.key} spec={s} />)}
      {charts.filter((s: any) => s.frame).map((s: any) => (
        <div key={"f" + s.key} style={abs({ left: s.frame.left - 1, top: s.frame.top - 1, width: s.frame.w + 2, height: s.frame.h + 2, boxSizing: "border-box", border: "1px solid #b9bbd0" })} />
      ))}
      {texts.map(([t, x, y, size, rot], i) => (
        <span key={i} style={abs({ left: x, top: y, fontSize: size, lineHeight: 1, whiteSpace: "nowrap", transform: `translate(-50%,-50%)${rot ? " rotate(-90deg)" : ""}` })}>{t}</span>
      ))}
      {legends.map(([a, b, tx, y1, y2], i) => (
        <React.Fragment key={i}>
          <div style={abs({ left: a, top: y1 - 1, width: b - a, height: 2.5, background: "#1c63c0" })} />
          <div style={abs({ left: a, top: y2 - 1, width: b - a, height: 2.5, background: "#e03010" })} />
          <span style={abs({ left: tx, top: y1, fontSize: 21, lineHeight: 1, transform: "translateY(-50%)" })}>WT</span>
          <span style={abs({ left: tx, top: y2, fontSize: 21, lineHeight: 1, transform: "translateY(-50%)" })}>AD</span>
        </React.Fragment>
      ))}
      {boxes.map(([l, t, w, h], i) => (
        <div key={i} style={abs({ left: l, top: t, width: w, height: h, boxSizing: "border-box", border: "2.5px solid #222" })} />
      ))}
      {sigBars.map(([a, b, y], i) => (
        <div key={i} style={abs({ left: a, top: y - 1, width: b - a, height: 2.5, background: "#222" })} />
      ))}
      {dashed.map(([x, a, b], i) => (
        <div key={i} style={abs({ left: x, top: a, width: 1.6, height: b - a, background: "repeating-linear-gradient(#222 0 4px, transparent 4px 6.5px)" })} />
      ))}
    </div>
  );
}
